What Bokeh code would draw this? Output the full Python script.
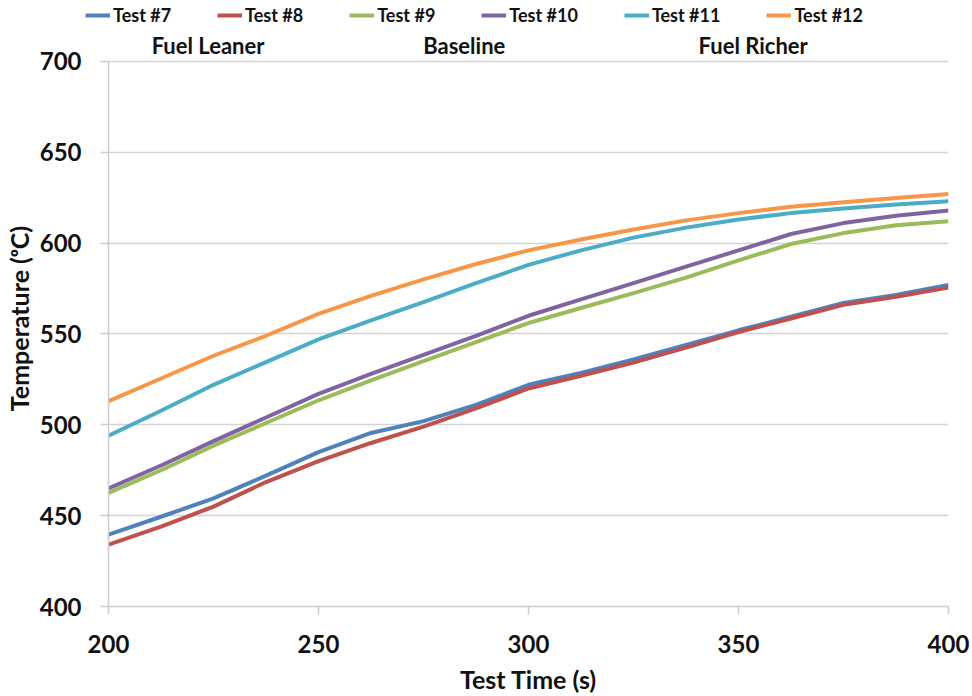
from bokeh.plotting import figure
from bokeh.models import Legend, LegendItem, Label, FixedTicker, Range1d
from bokeh.embed import file_html
from bokeh.resources import INLINE

# ---- data ----
test_time = [200, 212.5, 225, 237.5, 250, 262.5, 275, 287.5, 300,
             312.5, 325, 337.5, 350, 362.5, 375, 387.5, 400]
test7 = [439.5, 449.4, 459.5, 472.0, 485.0, 495.5, 502.0, 511.0, 522.0,
         528.5, 536.0, 544.0, 552.0, 559.5, 567.0, 571.5, 577.0]
test8 = [434.0, 444.0, 455.0, 468.5, 480.0, 490.0, 499.0, 509.0, 520.0,
         527.0, 534.2, 542.5, 551.0, 558.5, 566.0, 570.5, 575.5]
test9 = [462.5, 475.0, 488.5, 501.0, 513.5, 524.5, 535.0, 545.5, 556.0,
         564.3, 572.5, 581.0, 590.5, 599.5, 605.5, 609.8, 612.0]
test10 = [465.0, 477.6, 491.0, 504.0, 517.0, 528.0, 538.5, 549.0, 560.0,
          569.0, 578.0, 587.0, 596.0, 605.0, 611.0, 615.0, 618.0]
test11 = [494.0, 507.7, 522.0, 534.5, 547.0, 557.5, 567.5, 578.0, 588.0,
          596.0, 603.0, 608.5, 613.0, 616.5, 619.0, 621.3, 623.0]
test12 = [513.0, 525.5, 538.0, 549.0, 561.0, 571.0, 580.0, 588.5, 596.0,
          602.0, 607.5, 612.5, 616.5, 620.0, 622.5, 624.8, 627.0]

series_names = ["Test #7", "Test #8", "Test #9", "Test #10", "Test #11", "Test #12"]
series_values = [test7, test8, test9, test10, test11, test12]
series_colors = ["#4F81BD", "#C0504D", "#9BBB59", "#8064A2", "#4BACC6", "#F79646"]

x_ticks = [200, 250, 300, 350, 400]
y_ticks = [400, 450, 500, 550, 600, 650, 700]

group_labels = ["Fuel Leaner", "Baseline", "Fuel Richer"]
group_label_x = [223.7, 284.7, 353.5]
group_label_y = 708.8

FONT = "Lato"
TXT = "#111111"

W = 972
TOP_H = 30
MAIN_H = 666

# ---- legend strip on top (its lines lie outside its visible y range) ----
top = figure(width=W, height=TOP_H, output_backend="svg", toolbar_location=None,
             x_range=Range1d(0, W), y_range=Range1d(0, TOP_H),
             x_axis_type=None, y_axis_type=None,
             min_border_left=0, min_border_right=0, min_border_top=0, min_border_bottom=0)
top.outline_line_color = None
top.xgrid.visible = False
top.ygrid.visible = False
items = []
for name, vals, col in zip(series_names, series_values, series_colors):
    r = top.line(test_time, vals, line_color=col, line_width=4)
    items.append(LegendItem(label=name, renderers=[r]))
legend = Legend(items=items, orientation="horizontal", location=(85, 4),
                padding=0, margin=0, spacing=46, label_standoff=3,
                glyph_width=25, glyph_height=20, label_height=20,
                border_line_color=None, background_fill_alpha=0,
                label_text_font=FONT, label_text_font_style="bold",
                label_text_font_size="18px", label_text_color=TXT)
top.add_layout(legend, "center")

# ---- main chart ----
p = figure(width=W, height=MAIN_H, output_backend="svg", toolbar_location=None,
           x_range=Range1d(200, 400), y_range=Range1d(400, 717),
           min_border_left=105, min_border_right=24, min_border_top=0, min_border_bottom=87)
p.outline_line_color = None

for name, vals, col in zip(series_names, series_values, series_colors):
    p.line(test_time, vals, line_color=col, line_width=4)

p.xaxis.ticker = FixedTicker(ticks=x_ticks)
p.yaxis.ticker = FixedTicker(ticks=y_ticks)
p.yaxis.bounds = (400, 700)
for ax in (p.xaxis[0], p.yaxis[0]):
    ax.axis_line_color = "#cccccc"
    ax.axis_line_width = 1.5
    ax.major_tick_line_color = "#cccccc"
    ax.major_tick_line_width = 1.5
    ax.major_tick_out = 8
    ax.major_tick_in = 0
    ax.minor_tick_line_color = None
    ax.major_label_text_font = FONT
    ax.major_label_text_font_style = "bold"
    ax.major_label_text_font_size = "24px"
    ax.major_label_text_color = TXT
    ax.axis_label_text_font = FONT
    ax.axis_label_text_font_style = "bold"
    ax.axis_label_text_font_size = "25px"
    ax.axis_label_text_color = TXT

p.xaxis.axis_label = "Test Time (s)"
p.yaxis.axis_label = "Temperature (ᵒC)"
p.xaxis.major_label_standoff = 20
p.yaxis.major_label_standoff = 19
p.xaxis.axis_label_standoff = 8
p.yaxis.axis_label_standoff = 3

p.xgrid.grid_line_color = None
p.ygrid.grid_line_color = "#d4d4d4"
p.ygrid.grid_line_width = 1.5

for txt, gx in zip(group_labels, group_label_x):
    p.add_layout(Label(x=gx, y=group_label_y, text=txt, text_align="center",
                       text_baseline="middle", text_font=FONT, text_font_style="bold",
                       text_font_size="22px", text_color=TXT))

open("out.html", "w").write(file_html([top, p], INLINE))
